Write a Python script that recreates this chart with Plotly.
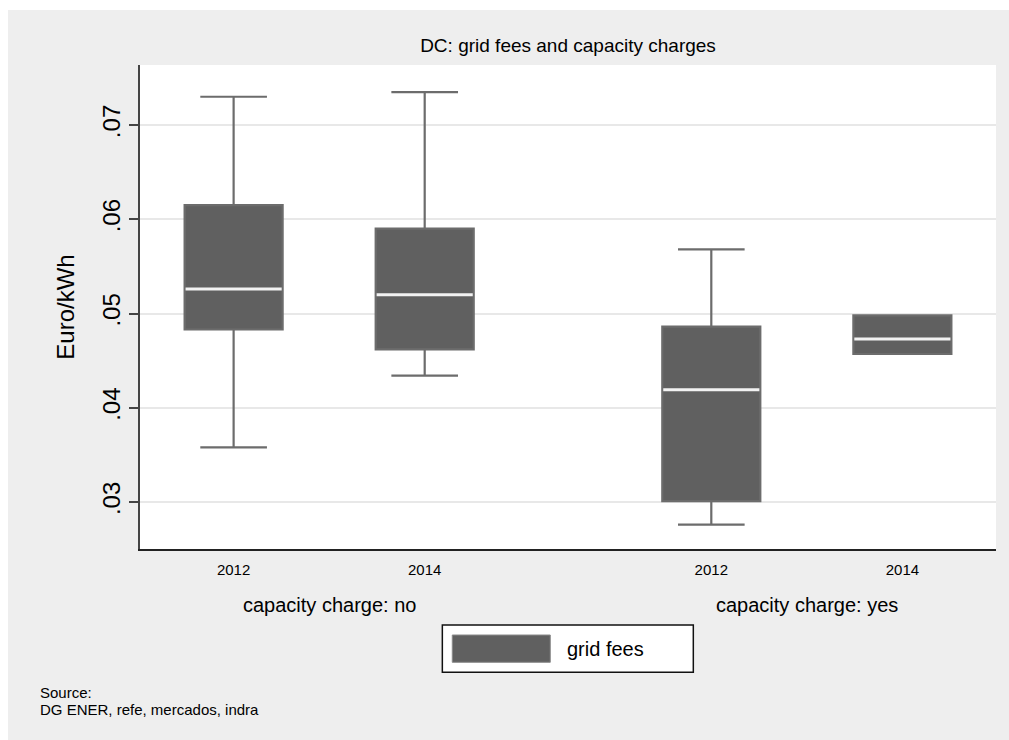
"""DC: grid fees and capacity charges, box plot by year and capacity charge."""

import plotly.graph_objects as go

# data
years = ["2012", "2014"]
groups = ["capacity charge: no", "capacity charge: yes"]
series_name = "grid fees"

lower_whisker = [0.0358, 0.0434, 0.0276, 0.0457]
q1 = [0.0483, 0.0462, 0.0301, 0.0457]
median = [0.0526, 0.0520, 0.0419, 0.0473]
q3 = [0.0615, 0.0590, 0.0486, 0.0498]
upper_whisker = [0.0730, 0.0735, 0.0568, 0.0498]

y_ticks = [0.03, 0.04, 0.05, 0.06, 0.07]
y_tick_labels = [".03", ".04", ".05", ".06", ".07"]

source_lines = ["Source:", "DG ENER, refe, mercados, indra"]

# layout helpers (stata style: boxes 1 apart inside a group, 1.5 between groups)
BOX_GAP = 1.0
GROUP_GAP = 1.5
BOX_WIDTH = 0.513
FONT = "Liberation Sans, Arial, sans-serif"

positions = []
tick_text = []
group_centres = []
pos = 0.0
for g_index, _ in enumerate(groups):
    start = pos
    for y_index, year in enumerate(years):
        positions.append(pos)
        tick_text.append(year)
        if y_index < len(years) - 1:
            pos += BOX_GAP
    group_centres.append((start + pos) / 2)
    pos += GROUP_GAP

fig = go.Figure()

fig.add_trace(
    go.Box(
        x=positions,
        q1=q1,
        median=median,
        q3=q3,
        lowerfence=lower_whisker,
        upperfence=upper_whisker,
        width=BOX_WIDTH,
        whiskerwidth=0.68,
        fillcolor="#606060",
        line={"color": "#6c6c6c", "width": 2.2},
        boxpoints=False,
        name=series_name,
        showlegend=False,
    )
)

# white median lines, stata draws them over the box fill
med_x = []
med_y = []
for p, m in zip(positions, median):
    med_x += [p - BOX_WIDTH / 2 + 0.005, p + BOX_WIDTH / 2 - 0.005, None]
    med_y += [m, m, None]
fig.add_trace(
    go.Scatter(
        x=med_x,
        y=med_y,
        mode="lines",
        line={"color": "#f2f2f2", "width": 3},
        showlegend=False,
        hoverinfo="skip",
    )
)

annotations = []
for centre, label in zip(group_centres, groups):
    annotations.append(
        {
            "x": centre,
            "xref": "x",
            "y": -0.1157,
            "yref": "paper",
            "text": label,
            "showarrow": False,
            "yanchor": "middle",
            "font": {"size": 20, "color": "black", "family": FONT},
        }
    )

# legend drawn by hand to get the wide stata swatch
annotations.append(
    {
        "x": 0.4965,
        "xref": "paper",
        "y": -0.2058,
        "yref": "paper",
        "text": series_name,
        "showarrow": False,
        "xanchor": "left",
        "yanchor": "middle",
        "font": {"size": 20, "color": "black", "family": FONT},
    }
)

for line_y, line in zip([-0.2955, -0.3306], source_lines):
    annotations.append(
        {
            "x": -0.1192,
            "xref": "paper",
            "y": line_y,
            "yref": "paper",
            "text": line,
            "showarrow": False,
            "xanchor": "left",
            "yanchor": "middle",
            "font": {"size": 15, "color": "black", "family": FONT},
        }
    )

shapes = [
    # legend frame and swatch
    {
        "type": "rect", "xref": "paper", "yref": "paper",
        "x0": 0.3532, "x1": 0.6464, "y0": -0.2548, "y1": -0.157,
        "fillcolor": "white", "line": {"color": "#111111", "width": 1.5},
    },
    {
        "type": "rect", "xref": "paper", "yref": "paper",
        "x0": 0.3648, "x1": 0.4793, "y0": -0.2341, "y1": -0.1777,
        "fillcolor": "#606060", "line": {"color": "#8a8a8a", "width": 1},
    },
    # white outer margin at top and left
    {
        "type": "rect", "xref": "paper", "yref": "paper",
        "x0": -0.2, "x1": 1.1, "y0": 1.1136, "y1": 1.2,
        "fillcolor": "white", "line": {"width": 0},
    },
    {
        "type": "rect", "xref": "paper", "yref": "paper",
        "x0": -0.2, "x1": -0.1542, "y0": -0.5, "y1": 1.2,
        "fillcolor": "white", "line": {"width": 0},
    },
]

fig.update_layout(
    width=1009,
    height=740,
    margin={"l": 140, "r": 13, "t": 65, "b": 191},
    paper_bgcolor="#eeeeee",
    plot_bgcolor="white",
    font={"family": FONT, "color": "black"},
    title={
        "text": "DC: grid fees and capacity charges",
        "x": 0.5,
        "xref": "paper",
        "xanchor": "center",
        "y": 1 - 45 / 740,
        "yanchor": "middle",
        "font": {"size": 19, "color": "black", "family": FONT},
    },
    xaxis={
        "range": [-0.49, 3.99],
        "tickvals": positions,
        "ticktext": tick_text,
        "ticks": "",
        "showgrid": False,
        "zeroline": False,
        "showline": True,
        "linecolor": "#222222",
        "linewidth": 2,
        "tickfont": {"size": 15, "color": "black"},
        "ticklabelstandoff": 6,
    },
    yaxis={
        "range": [0.02501, 0.07637],
        "tickvals": y_ticks,
        "ticktext": y_tick_labels,
        "tickangle": -90,
        "ticks": "outside",
        "ticklen": 9,
        "tickwidth": 1.5,
        "tickcolor": "#444444",
        "showline": True,
        "linecolor": "#444444",
        "linewidth": 1.5,
        "showgrid": True,
        "gridcolor": "#e8e8e8",
        "gridwidth": 2,
        "zeroline": False,
        "tickfont": {"size": 24, "color": "black"},
        "title": {"text": "Euro/kWh", "font": {"size": 24, "color": "black"}, "standoff": 16},
    },
    annotations=annotations,
    shapes=shapes,
    showlegend=False,
)

# the figure fills the whole window, so drop the page margin
fig.write_html(
    "out.html",
    config={"displayModeBar": False},
    post_script="document.body.style.margin='0';document.body.style.overflow='hidden';",
)
